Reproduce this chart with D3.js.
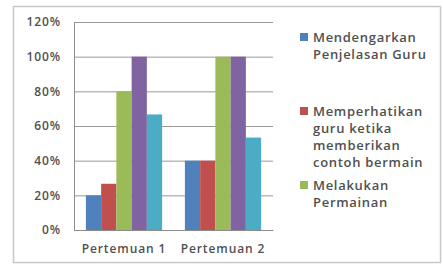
<!DOCTYPE html>
<html>
<head>
<meta charset="utf-8">
<script src="https://cdn.jsdelivr.net/npm/d3@7"></script>
<style>
  body { margin: 0; background: #fff; }
  text { font-family: "Open Sans", sans-serif; fill: #505050; }
</style>
</head>
<body>
<div id="chart"></div>
<script>
const categories = ["Pertemuan 1", "Pertemuan 2"];
const seriesNames = [
  "Mendengarkan Penjelasan Guru",
  "Memperhatikan guru ketika memberikan contoh bermain",
  "Melakukan Permainan",
  "Series 4",
  "Series 5"
];
const seriesValues = [
  [0.20, 0.40],
  [0.2667, 0.40],
  [0.80, 1.00],
  [1.00, 1.00],
  [0.6667, 0.5333]
];
const yTicks = [0, 0.2, 0.4, 0.6, 0.8, 1.0, 1.2];
// legend only shows the first three entries in the original
const legendLines = [
  ["Mendengarkan", "Penjelasan Guru"],
  ["Memperhatikan", "guru ketika", "memberikan", "contoh bermain"],
  ["Melakukan", "Permainan"]
];

const colors = ["#4F81BD", "#C0504D", "#9BBB59", "#8064A2", "#4BACC6"];

const W = 443, H = 266;
const margin = { top: 22, right: 170, bottom: 36, left: 74 };
const width = W - margin.left - margin.right;
const height = H - margin.top - margin.bottom;

const svg = d3.select("#chart").append("svg")
  .attr("width", W)
  .attr("height", H);

// outer frame
svg.append("rect")
  .attr("x", 13.5).attr("y", 6.5)
  .attr("width", 427).attr("height", 256)
  .attr("fill", "#fff")
  .attr("stroke", "#c8c8c8")
  .attr("stroke-width", 1.5);

const g = svg.append("g")
  .attr("transform", "translate(" + margin.left + "," + margin.top + ")");

const x0 = d3.scaleBand().domain(categories).range([0, width]).paddingInner(0.23).paddingOuter(0.12);
const x1 = d3.scaleBand().domain(d3.range(seriesNames.length)).range([0, x0.bandwidth()]);
const y = d3.scaleLinear().domain([0, 1.2]).range([height, 0]);

// gridlines
g.append("g")
  .call(d3.axisLeft(y).tickValues(yTicks).tickSize(-width).tickFormat(""))
  .call(s => s.select(".domain").remove())
  .call(s => s.selectAll("line").attr("stroke", "#999").attr("stroke-width", 1));

// bars
const groups = g.selectAll(".grp")
  .data(categories)
  .enter().append("g")
  .attr("transform", d => "translate(" + x0(d) + ",0)");

groups.selectAll("rect")
  .data((c, ci) => seriesValues.map((vals, si) => ({ si: si, v: vals[ci] })))
  .enter().append("rect")
  .attr("x", d => x1(d.si))
  .attr("width", x1.bandwidth())
  .attr("y", d => y(d.v))
  .attr("height", d => height - y(d.v))
  .attr("fill", d => colors[d.si]);

// y axis
const yAxis = g.append("g")
  .call(d3.axisLeft(y).tickValues(yTicks).tickSize(0).tickPadding(13).tickFormat(d3.format(".0%")));
yAxis.select(".domain").attr("stroke", "#8c8c8c");
yAxis.selectAll("text")
  .style("font-size", "12px").style("font-weight", "600").style("letter-spacing", "0.9px")
  .style("fill", "#505050");

// x axis
const xAxis = g.append("g")
  .attr("transform", "translate(0," + height + ")")
  .call(d3.axisBottom(x0).tickSize(0).tickPadding(14));
xAxis.select(".domain").attr("stroke", "#8c8c8c");
xAxis.selectAll("text")
  .style("font-size", "12px").style("font-weight", "600").style("letter-spacing", "0.9px")
  .style("fill", "#505050");

// legend
const legendTops = [37, 111, 185];
const legend = svg.selectAll(".legend")
  .data(legendLines)
  .enter().append("g")
  .attr("transform", (d, i) => "translate(300," + legendTops[i] + ")");

legend.append("rect")
  .attr("x", 0).attr("y", -4)
  .attr("width", 8).attr("height", 8)
  .attr("fill", (d, i) => colors[i]);

legend.append("text")
  .attr("x", 13)
  .attr("y", 0)
  .style("font-size", "13px")
  .style("font-weight", "600")
  .style("letter-spacing", "0.7px")
  .selectAll("tspan")
  .data(d => d)
  .enter().append("tspan")
  .attr("x", 13)
  .attr("dy", (d, i) => i === 0 ? "0.35em" : "17px")
  .text(d => d);
</script>
</body>
</html>
